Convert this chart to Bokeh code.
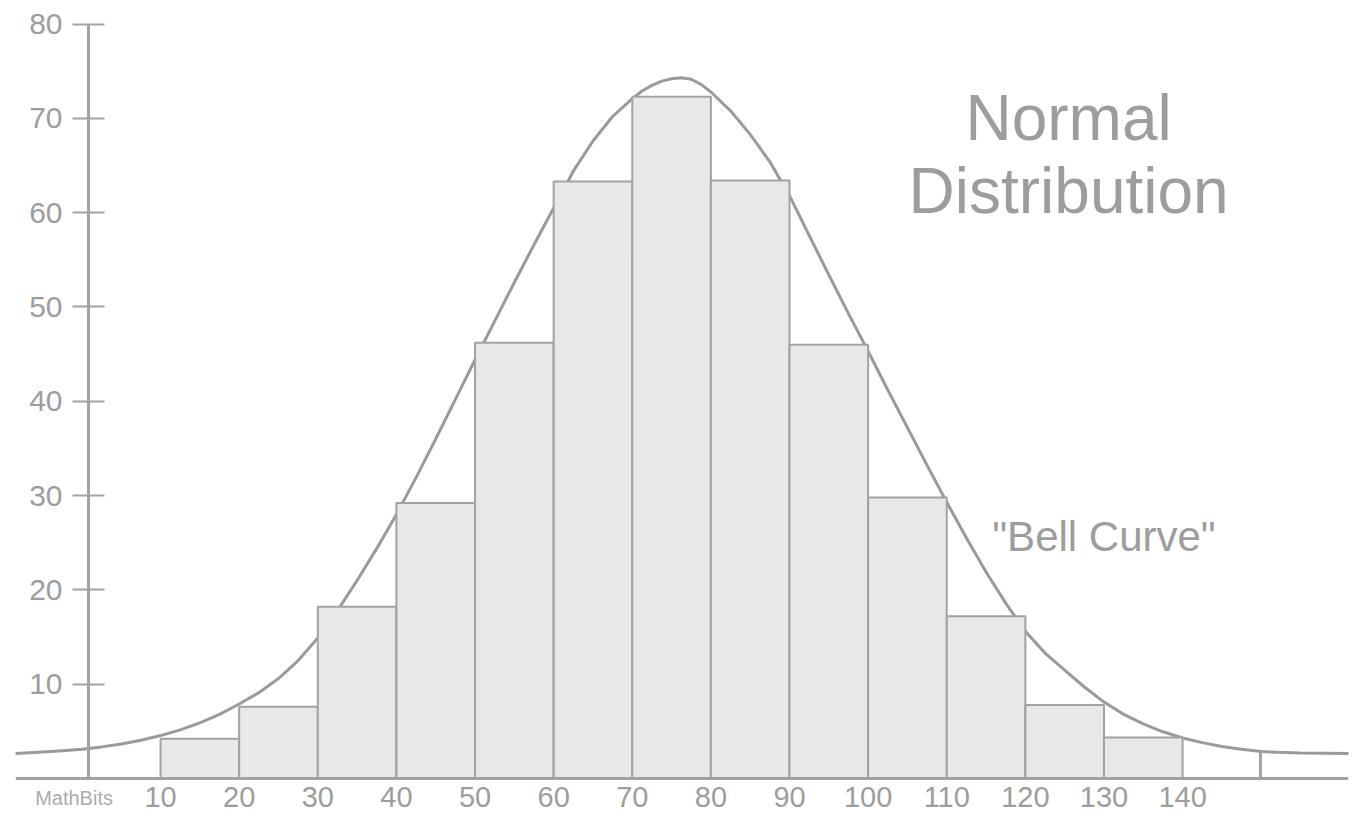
from bokeh.plotting import figure
from bokeh.models import LinearAxis, FixedTicker, Range1d
from bokeh.core.properties import value
from bokeh.embed import file_html
from bokeh.resources import INLINE

# ---- data ----
bin_edges = [10, 20, 30, 40, 50, 60, 70, 80, 90, 100, 110, 120, 130, 140]
bin_counts = [4.2, 7.6, 18.2, 29.2, 46.2, 63.3, 72.3, 63.4, 46.0, 29.8, 17.2, 7.8, 4.35]

curve_x = [-8.5, -5, -2.5, 0, 2.5, 5, 7.5, 10, 12.5, 15, 17.5, 20, 22.5, 25, 27.5,
           30, 32.5, 35, 37.5, 40, 42.5, 45, 47.5, 50, 52.5, 55, 57.5, 60, 62.5,
           65, 67.5, 70, 71.25, 72.5, 73.75, 75, 76.25, 77.5, 78.75, 80, 82.5,
           85, 87.5, 90, 92.5, 95, 97.5, 100, 102.5, 105, 107.5, 110, 112.5, 115,
           117.5, 120, 122.5, 125, 127.5, 130, 132.5, 135, 137.5, 140, 142.5,
           145, 147.5, 150, 155, 161.5]
curve_y = [2.65, 2.8, 2.95, 3.1, 3.35, 3.65, 4.05, 4.55, 5.15, 5.9, 6.8, 7.9, 9.1,
           10.6, 12.5, 14.9, 17.8, 21.0, 24.4, 28.0, 31.9, 36.0, 40.2, 44.4, 48.5,
           52.6, 56.6, 60.5, 64.4, 67.6, 70.2, 72.1, 72.9, 73.5, 73.95, 74.2, 74.3,
           74.15, 73.6, 72.8, 70.8, 68.3, 65.4, 61.8, 57.6, 53.4, 49.3, 45.3, 41.2,
           37.2, 33.2, 29.3, 25.5, 21.9, 18.6, 15.6, 13.3, 11.5, 9.7, 8.1, 6.8,
           5.8, 4.95, 4.3, 3.8, 3.4, 3.1, 2.85, 2.7, 2.65]

tail_mark_x = [149.9]
tail_mark_top = [2.85]

x_ticks = [10, 20, 30, 40, 50, 60, 70, 80, 90, 100, 110, 120, 130, 140]
y_ticks = [10, 20, 30, 40, 50, 60, 70, 80]

title_lines = ["Normal", "Distribution"]
curve_label = ["\"Bell Curve\""]
credit_text = "MathBits"

# ---- styling ----
GRAY_LINE = "#a2a2a2"
GRAY_TEXT = "#9d9d9d"
BAR_FILL = "#e8e8ea"
FONT = "Liberation Sans"

p = figure(width=1356, height=814,
           x_range=Range1d(-8.45, 161.1), y_range=Range1d(-3.82, 82.5),
           output_backend="svg", toolbar_location=None,
           x_axis_type=None, y_axis_type=None,
           min_border_left=15, min_border_right=8,
           min_border_top=0, min_border_bottom=0)
p.outline_line_color = None
p.background_fill_color = "white"
p.border_fill_color = "white"

# bell curve (behind the bars)
p.line(curve_x, curve_y, line_color="#9a9a9a", line_width=3, line_join="round")

# histogram bars
p.quad(left=bin_edges[:-1], right=bin_edges[1:], bottom=0, top=bin_counts,
       fill_color=BAR_FILL, line_color=GRAY_LINE, line_width=2)

# small end mark on the right tail
p.segment(x0=tail_mark_x, y0=[0] * len(tail_mark_x), x1=tail_mark_x, y1=tail_mark_top,
          line_color=GRAY_LINE, line_width=3)

# y axis drawn inside the frame
yaxis = LinearAxis(fixed_location=0.84, ticker=FixedTicker(ticks=y_ticks), bounds=(0, 80),
                   axis_line_color=GRAY_LINE, axis_line_width=3,
                   major_tick_line_color=GRAY_LINE, major_tick_line_width=2,
                   major_tick_out=16, major_tick_in=16,
                   minor_tick_line_color=None,
                   major_label_text_font=FONT, major_label_text_font_size="30px",
                   major_label_text_color=GRAY_TEXT, major_label_standoff=10)
p.add_layout(yaxis, "left")

# x axis (baseline)
xaxis = LinearAxis(fixed_location=0, ticker=FixedTicker(ticks=x_ticks),
                   axis_line_color=GRAY_LINE, axis_line_width=3,
                   major_tick_line_color=None, major_tick_out=0, major_tick_in=0,
                   minor_tick_line_color=None,
                   major_label_text_font=FONT, major_label_text_font_size="29px",
                   major_label_text_color=GRAY_TEXT, major_label_standoff=9)
p.add_layout(xaxis, "below")

# credit under the origin
credit_axis = LinearAxis(fixed_location=0, ticker=FixedTicker(ticks=[-1]),
                         major_label_overrides={-1: credit_text},
                         axis_line_color=None, major_tick_line_color=None,
                         major_tick_out=0, major_tick_in=0, minor_tick_line_color=None,
                         major_label_text_font=FONT, major_label_text_font_size="20px",
                         major_label_text_color="#ababab", major_label_standoff=9)
p.add_layout(credit_axis, "below")

# titles
p.text(x=[125.5, 125.5], y=[70.0, 62.35], text=title_lines,
       text_font=value(FONT), text_font_size="64px", text_color=GRAY_TEXT,
       text_align="center", text_baseline="alphabetic")
p.text(x=[130.0], y=[25.7], text=curve_label,
       text_font=value(FONT), text_font_size="42px", text_color=GRAY_TEXT,
       text_align="center", text_baseline="alphabetic")

open("out.html", "w").write(file_html(p, INLINE))
